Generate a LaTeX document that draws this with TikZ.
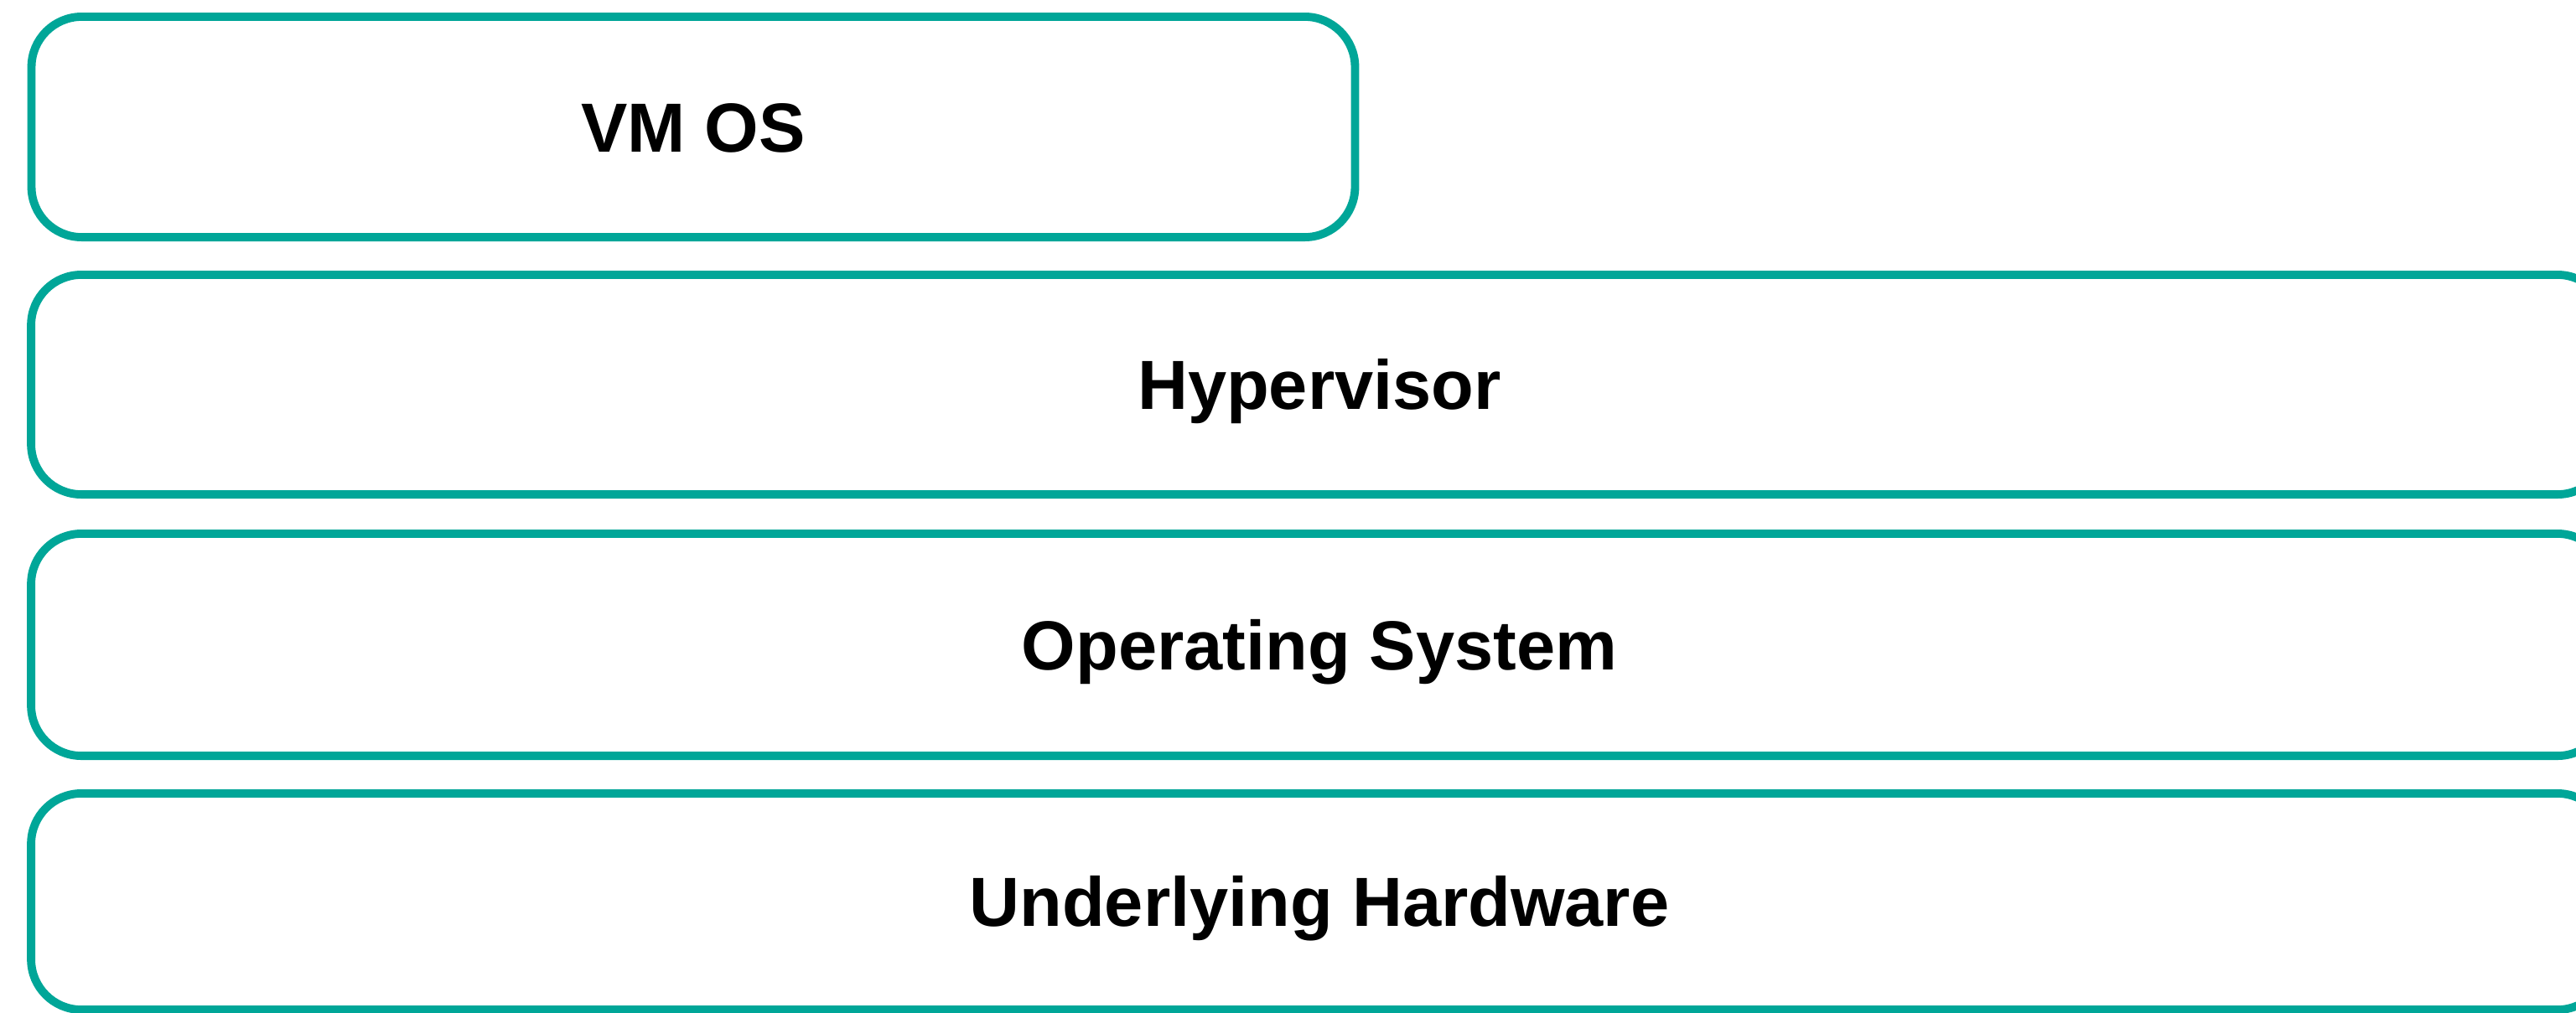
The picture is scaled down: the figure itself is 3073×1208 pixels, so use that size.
\documentclass[tikz,border=0pt]{standalone}
\usepackage{fontspec}
\setmainfont{Liberation Sans}
\definecolor{teal1}{RGB}{0,166,152}
\begin{document}
\begin{tikzpicture}[x=0.01cm,y=-0.01cm,
  layer/.style={draw=teal1, line width=2.8pt, rounded corners=0.6cm,
    minimum height=2.63cm, inner sep=0pt, text height=17pt, text depth=0pt,
    font=\fontsize{23.6}{28}\selectfont\bfseries, text=black}]
\useasboundingbox (0,0) rectangle (3073,1208);
\clip (0,0) rectangle (3073,1208);
\node[layer, minimum width=15.78cm] (vm) at (827,151.5) {VM OS};
\node[layer, minimum width=30.72cm, minimum height=2.62cm] (hyp) at (1574,459) {Hypervisor};
\node[layer, minimum width=30.72cm, minimum height=2.65cm] (os) at (1574,769.5) {Operating System};
\node[layer, minimum width=30.72cm, minimum height=2.58cm] (hw) at (1574,1076) {Underlying Hardware};
\end{tikzpicture}
\end{document}
